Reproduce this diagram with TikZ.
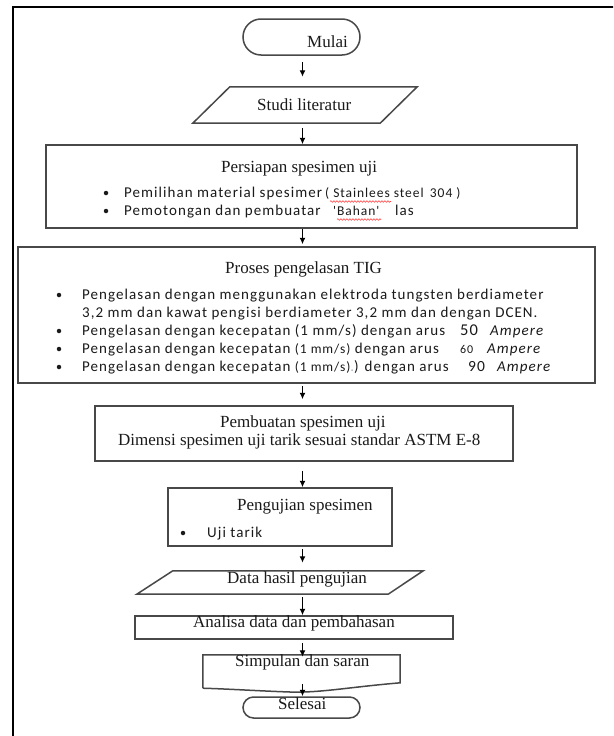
\documentclass[tikz,border=0pt]{standalone}
\usepackage{fontspec}
\setmainfont{Liberation Serif}
\newfontfamily\calfont[LetterSpace=7]{Carlito}
\usetikzlibrary{arrows.meta,calc,decorations.pathmorphing}
\definecolor{txt}{HTML}{1A1A1A}
\definecolor{boxgray}{HTML}{484848}
\definecolor{faint}{HTML}{B0B8C0}
\begin{document}
\begin{tikzpicture}[x=1pt,y=-1pt,
  box/.style={draw=boxgray, line width=1.5pt, inner sep=0pt},
  ghost/.style={inner sep=0pt},
  boxline/.style={draw=boxgray, line width=1.5pt, line join=miter},
  arr/.style={-{Latex[length=6.5pt,width=6pt]}, line width=1.6pt, draw=black},
  ttl/.style={font=\fontsize{17}{20}\selectfont, text=txt, inner sep=0pt, anchor=base west},
  sans/.style={font=\calfont\fontsize{15}{18}\selectfont, text=txt, inner sep=0pt, anchor=base west},
  dot/.style={circle, fill=txt, inner sep=0pt, minimum size=4.5pt},
  wavy/.style={draw=red!75, line width=0.6pt, decorate, decoration={snake, amplitude=0.8pt, segment length=3pt}}
]
\useasboundingbox (0,0) rectangle (613,736);
\clip (0,0) rectangle (613,736);
\fill[white] (0,0) rectangle (613,736);
% outer frame
\draw[line width=2.2pt, black] (13,760) -- (13,7) -- (640,7) -- (640,760);
\coordinate (ax) at (302.5,0);

% Mulai
\node[box, rounded corners=18pt, minimum width=117pt, minimum height=36pt] (mulai) at (301.5,37) {};
\node[ttl] (mulaitxt) at (307,47) {Mulai};

% Studi literatur
\node[ghost, minimum width=224pt, minimum height=36pt] (studi) at (305,105) {};
\draw[boxline] ($(studi.north west)+(37,0)$) -- (studi.north east) -- ($(studi.south east)+(-37,0)$) -- (studi.south west) -- cycle;
\node[ttl] (studitxt) at (257,110) {Studi literatur};

% Persiapan
\node[box, minimum width=531pt, minimum height=83pt] (persiapan) at (311.5,186.5) {};
\node[ttl] (persttl) at (221,172) {Persiapan spesimen uji};
\node[dot] (pb1) at (106,193) {};
\node[dot] (pb2) at (106,211) {};
\node[sans] (pl1) at (124,197) {Pemilihan material spesimer};
\node[sans, font=\calfont\fontsize{13.5}{16}\selectfont] (pl1b) at (325,197) {( Stainlees steel\, 304 )};
\node[sans] (pl2) at (124,215) {Pemotongan dan pembuatar};
\node[sans, font=\calfont\fontsize{13.5}{16}\selectfont] (pl2b) at (333,215) {'Bahan'};
\node[sans] (pl2c) at (395,215) {las};
\draw[wavy] (330,201.5) -- (391,201.5);
\draw[wavy] (337,219.5) -- (381,219.5);

% Proses
\node[box, minimum width=577pt, minimum height=136pt] (proses) at (306.5,315) {};
\node[ttl] (prosttl) at (225,273) {Proses pengelasan TIG};
\node[dot] (qb1) at (59,295) {};
\node[dot] (qb3) at (59,331) {};
\node[dot] (qb4) at (59,349) {};
\node[dot] (qb5) at (59,367) {};
\node[sans] (ql1) at (82,299) {Pengelasan dengan menggunakan elektroda tungsten berdiameter};
\node[sans] (ql2) at (82,317) {3,2 mm dan kawat pengisi berdiameter 3,2 mm dan dengan DCEN.};
\node[sans] (ql3) at (82,335) {Pengelasan dengan kecepatan (1 mm/s) dengan arus};
\node[sans, font=\calfont\fontsize{16.5}{18}\selectfont] (ql3n) at (460,335) {50};
\node[sans, font=\calfont\itshape\fontsize{15}{18}\selectfont] (ql3a) at (490,335) {Ampere};
\node[sans] (ql4) at (82,353) {Pengelasan dengan kecepatan {\fontsize{13.5}{16}\selectfont(1 mm/s)} dengan arus};
\node[sans, font=\calfont\fontsize{12}{14}\selectfont] (ql4n) at (460,353) {60};
\node[sans, font=\calfont\itshape\fontsize{15}{18}\selectfont] (ql4a) at (487,353) {Ampere};
\node[sans] (ql5) at (82,371) {Pengelasan dengan kecepatan {\fontsize{13.5}{16}\selectfont(1 mm/s)}{\color{faint}.}) dengan arus};
\node[sans, font=\calfont\fontsize{15.5}{18}\selectfont] (ql5n) at (468,371) {90};
\node[sans, font=\calfont\itshape\fontsize{15}{18}\selectfont] (ql5a) at (497,371) {Ampere};

% Pembuatan
\node[box, minimum width=418pt, minimum height=55pt] (pemb) at (304,433.5) {};
\node[ttl] (pembttl) at (220,427) {Pembuatan spesimen uji};
\node[ttl] (pembl2) at (118,445) {Dimensi spesimen uji tarik sesuai standar ASTM E-8};

% Pengujian
\node[box, minimum width=224pt, minimum height=58pt] (peng) at (280,517) {};
\node[ttl] (pengttl) at (237,510) {Pengujian spesimen};
\node[dot] (ub1) at (183,533) {};
\node[sans] (ul1) at (207,537) {Uji tarik};

% Data hasil
\node[ghost, minimum width=286pt, minimum height=23pt] (data) at (280,582.5) {};
\draw[boxline] ($(data.north west)+(36,0)$) -- (data.north east) -- ($(data.south east)+(-35,0)$) -- (data.south west) -- cycle;
\node[ttl] (datatxt) at (227,583) {Data hasil pengujian};

% Analisa
\node[box, minimum width=318pt, minimum height=23pt] (anal) at (294,627.5) {};
\node[ttl] (analtxt) at (193,627) {Analisa data dan pembahasan};

% Simpulan (document)
\node[ghost, minimum width=197pt, minimum height=33pt] (simp) at (301.5,671.5) {};
\draw[boxline] (simp.south west) -- (simp.north west) -- (simp.north east) -- ($(simp.north east)+(0,28)$)
  .. controls (350,687) and (320,693) .. (290,692) .. controls (260,691) and (230,689) .. (simp.south west);
\node[ttl] (simptxt) at (235,666) {Simpulan dan saran};

% Selesai
\node[box, rounded corners=10.5pt, minimum width=117pt, minimum height=21pt] (selesai) at (301.5,707.5) {};
\node[ttl] (seltxt) at (278,709) {Selesai};

% arrows
\draw[arr, shorten <=6pt, shorten >=10pt] (ax |- mulai.south) -- (ax |- studi.north);
\draw[arr, shorten <=5pt] (ax |- studi.south) -- (ax |- persiapan.north);
\draw[arr, shorten >=2pt] (ax |- persiapan.south) -- (ax |- proses.north);
\draw[arr, shorten <=2pt, shorten >=6pt] (ax |- proses.south) -- (ax |- pemb.north);
\draw[arr, shorten <=9pt] (ax |- pemb.south) -- (ax |- peng.north);
\draw[arr, shorten <=2pt, shorten >=8pt] (ax |- peng.south) -- (ax |- data.north);
\draw[arr, shorten <=3pt] (ax |- data.south) -- (ax |- anal.north);
\draw[arr, shorten <=3pt, shorten >=-2pt] (ax |- anal.south) -- (ax |- simp.north);
\draw[arr, shorten <=-4pt] (ax |- simp.south) -- (ax |- selesai.north);
\end{tikzpicture}
\end{document}
